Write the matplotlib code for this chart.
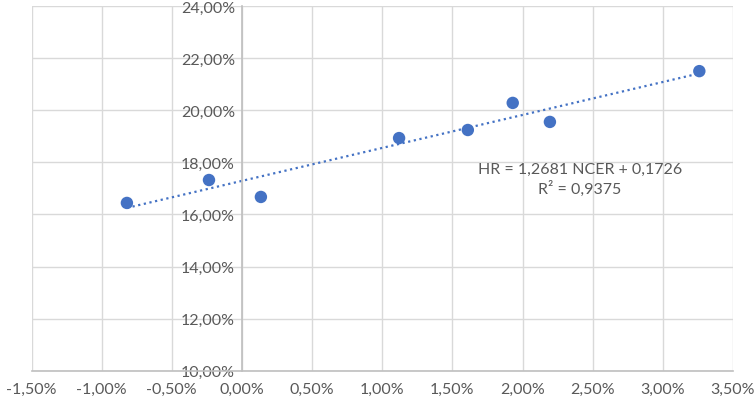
import matplotlib.pyplot as plt
import numpy as np
from matplotlib.ticker import FuncFormatter, MultipleLocator

# values in percent
ncer = [-0.82, -0.235, 0.135, 1.12, 1.61, 1.93, 2.195, 3.26]
hr = [16.44, 17.32, 16.67, 18.93, 19.24, 20.28, 19.55, 21.50]
eq_label = "HR = 1,2681 NCER + 0,1726\nR² = 0,9375"

plt.rcParams['font.family'] = ['Lato', 'DejaVu Sans']
blue = '#4472C4'
grey_txt = '#595959'

fig = plt.figure(figsize=(7.55, 4.06), dpi=100)
ax = fig.add_axes([31.5 / 755, 1 - 371.7 / 406, (733 - 31.5) / 755, (371.7 - 7) / 406])

ax.set_xlim(-1.5, 3.5)
ax.set_ylim(10, 24)
ax.xaxis.set_major_locator(MultipleLocator(0.5))
ax.yaxis.set_major_locator(MultipleLocator(2))

def pct(v, pos):
    return f"{v:.2f}%".replace('.', ',')

ax.xaxis.set_major_formatter(FuncFormatter(pct))
ax.yaxis.set_major_formatter(FuncFormatter(pct))

ax.grid(True, color='#D9D9D9', linewidth=1)
ax.set_axisbelow(True)

for s in ['top', 'right']:
    ax.spines[s].set_visible(False)
ax.spines['left'].set_position(('data', 0))
ax.spines['left'].set_color('#BFBFBF')
ax.spines['bottom'].set_color('#BFBFBF')
ax.spines['left'].set_linewidth(1.2)
ax.spines['bottom'].set_linewidth(1.2)
ax.tick_params(length=0, labelsize=11.5, colors=grey_txt)
ax.tick_params(axis='x', pad=8)
ax.tick_params(axis='y', pad=5)

# trendline
k, b = np.polyfit(ncer, hr, 1)
xs = np.array([min(ncer), max(ncer)])
ax.plot(xs, k * xs + b, color=blue, linewidth=1.6, linestyle=(0, (1, 1.6)), zorder=2)

ax.scatter(ncer, hr, s=80, color=blue, zorder=3, edgecolors='none')

ax.text(2.41, 17.38, eq_label, ha='center', va='center', fontsize=11.5,
        color=grey_txt, linespacing=1.3)

fig.savefig('out.png', dpi=100)
